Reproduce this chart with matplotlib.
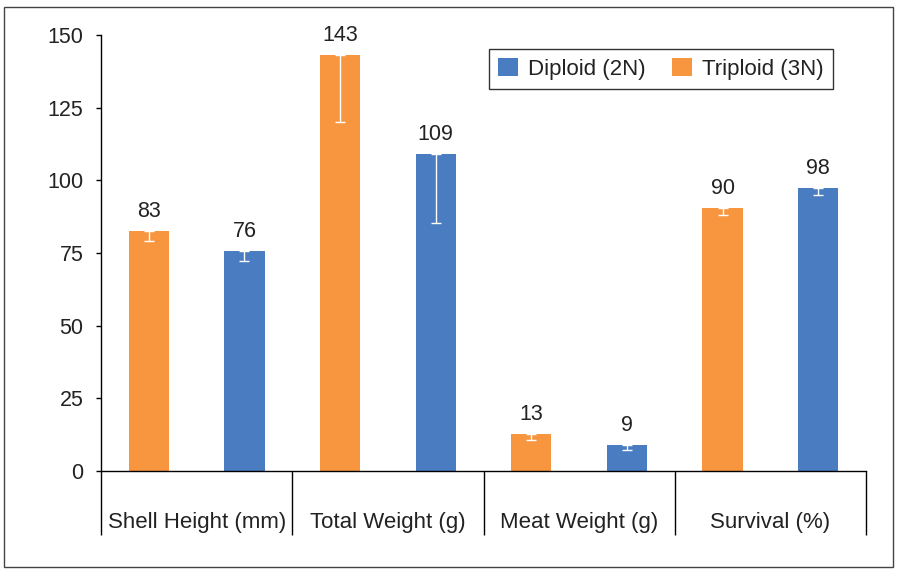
import numpy as np
import matplotlib.pyplot as plt
from matplotlib.patches import Rectangle

plt.rcParams['font.family'] = ['Liberation Sans', 'DejaVu Sans']

categories = ['Shell Height (mm)', 'Total Weight (g)', 'Meat Weight (g)', 'Survival (%)']
triploid = [82.6, 143, 12.7, 90.5]
diploid = [75.8, 109.2, 9, 97.4]
triploid_err = [3.5, 23, 2, 2.5]
diploid_err = [3.5, 24, 1.8, 2.5]
triploid_lbl = ['83', '143', '13', '90']
diploid_lbl = ['76', '109', '9', '98']

BLUE = '#4A7CC2'
ORANGE = '#F8963F'
TXT = '#222222'
FS = 15.5

fig = plt.figure(figsize=(9, 5.74), dpi=100)
ax = fig.add_axes([101/900, 1-471/574, 765/900, 436/574])

x = np.arange(len(categories))
w = 0.21
off = 0.25

ax.bar(x - off, triploid, w, color=ORANGE, label='Triploid (3N)', zorder=2)
ax.bar(x + off, diploid, w, color=BLUE, label='Diploid (2N)', zorder=2)

# minus-only error bars, white
ax.errorbar(x - off, triploid, yerr=[triploid_err, [0]*4], fmt='none', ecolor='white',
            elinewidth=1, capsize=3.6, capthick=1, zorder=3)
ax.errorbar(x + off, diploid, yerr=[diploid_err, [0]*4], fmt='none', ecolor='white',
            elinewidth=1, capsize=3.6, capthick=1, zorder=3)

for xi, v, s in zip(x - off, triploid, triploid_lbl):
    ax.annotate(s, (xi, v), xytext=(0, 10), textcoords='offset points',
                ha='center', va='baseline', fontsize=FS, color=TXT)
for xi, v, s in zip(x + off, diploid, diploid_lbl):
    ax.annotate(s, (xi, v), xytext=(0, 10), textcoords='offset points',
                ha='center', va='baseline', fontsize=FS, color=TXT)

ax.set_xlim(-0.5, len(categories) - 0.5)
ax.set_ylim(0, 150)
ax.set_yticks([0, 25, 50, 75, 100, 125, 150])
ax.tick_params(axis='y', direction='out', length=3.6, width=1, labelsize=FS, pad=9,
               colors='black', labelcolor=TXT)
ax.set_xticks(x)
ax.set_xticklabels([])
ax.tick_params(axis='x', which='major', length=0)
ax.set_xticks(np.arange(-0.5, len(categories), 1.0), minor=True)
ax.tick_params(axis='x', which='minor', length=46, width=1, direction='out', color='black')

for xi, c in zip(x, categories):
    ax.text(xi, -0.117, c, transform=ax.get_xaxis_transform(), ha='center', va='center',
            fontsize=FS + 0.5, color=TXT)

ax.spines['top'].set_visible(False)
ax.spines['right'].set_visible(False)
ax.spines['left'].set_linewidth(1)
ax.spines['bottom'].set_linewidth(1)

handles, labels = ax.get_legend_handles_labels()
leg = fig.legend(handles[::-1], labels[::-1], ncol=2, loc='upper right',
                 bbox_to_anchor=(833/900, 1 - 49/574), frameon=True, fontsize=FS + 0.5,
                 handlelength=0.9, handleheight=0.9, handletextpad=0.45, columnspacing=1.2,
                 borderpad=0.4, fancybox=False, borderaxespad=0)
leg.get_frame().set_edgecolor('black')
leg.get_frame().set_linewidth(1)
for t in leg.get_texts():
    t.set_color(TXT)

fig.patches.append(Rectangle((4/900, 7/574), 889/900, 560/574, transform=fig.transFigure,
                             fill=False, edgecolor='#444444', linewidth=1))

fig.savefig('out.png', dpi=100, facecolor='white')
